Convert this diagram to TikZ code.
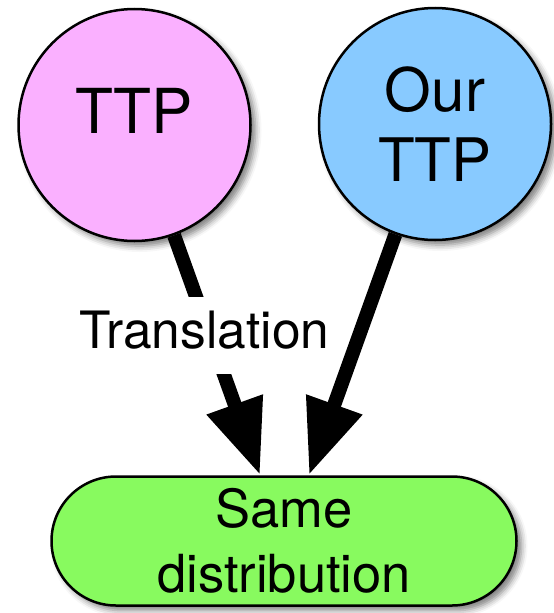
\documentclass[tikz,border=0pt]{standalone}
\usepackage{fontspec}
\setmainfont{TeX Gyre Heros}
\usetikzlibrary{arrows.meta,shapes.misc,shadows.blur}
\definecolor{pinkfill}{RGB}{250,176,255}
\definecolor{bluefill}{RGB}{136,202,255}
\definecolor{greenfill}{RGB}{136,250,95}
\begin{document}
\begin{tikzpicture}[x=1pt,y=-1pt,
  shadowed/.style={blur shadow={shadow xshift=5pt, shadow yshift=-5pt, shadow blur radius=6pt, shadow opacity=50}},
  circ/.style={circle, draw, line width=2.5pt, minimum size=232pt, inner sep=0pt, shadowed},
  bigarrow/.style={line width=14pt, -{Triangle[length=75pt,width=56pt]}},
  lbl/.style={fill=white, inner xsep=2pt, inner ysep=14pt, text height=37pt, text depth=12pt, font=\fontsize{51.5}{60}\selectfont},
 ]
\useasboundingbox (0,0) rectangle (554,613);
\node[circ, fill=pinkfill, font=\fontsize{62}{70}\selectfont, text depth=28.5pt] (ttp) at (134.5,125) {TTP};
\node[circ, fill=bluefill, font=\fontsize{60}{70}\selectfont, align=center] (ours) at (435,124) {Our\\TTP};
\node[rounded rectangle, draw, line width=2.5pt, fill=greenfill, minimum width=465pt, minimum height=129pt, inner sep=0pt, shadowed, font=\fontsize{52.5}{65}\selectfont, align=center] (same) at (284,541) {Same\\distribution};
\coordinate (tl) at (260,475);
\coordinate (tr) at (309,475);
\draw[bigarrow] (ttp) -- (tl);
\draw[bigarrow] (ours) -- (tr);
\node[lbl, anchor=base] (trans) at (204.5,348) {Translation};
\end{tikzpicture}
\end{document}
